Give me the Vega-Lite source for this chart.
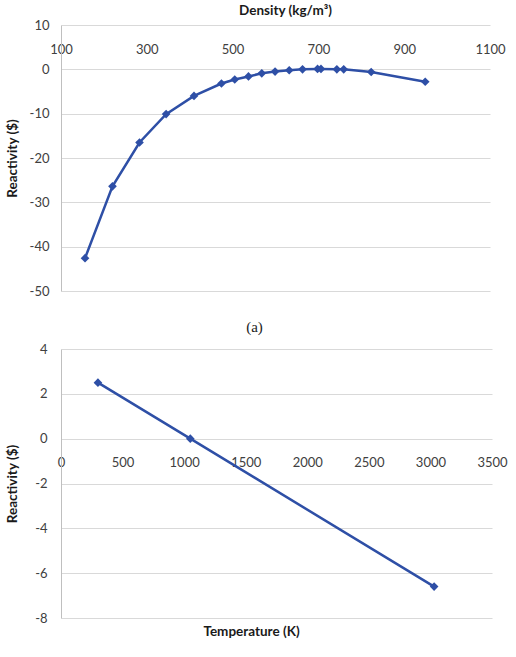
{
  "$schema": "https://vega.github.io/schema/vega-lite/v6.json",
  "background": "white",
  "padding": {"left": 5, "top": 3, "right": 5, "bottom": 5},
  "spacing": 8,
  "config": {
    "font": "Lato",
    "view": {"stroke": null},
    "axis": {"labelFont": "Lato", "labelFontSize": 13, "labelColor": "#404040", "labelExpr": "'' + datum.value", "titleFont": "Lato", "titleFontSize": 13.5, "titleFontWeight": "bold", "titleColor": "#1a1a1a", "gridColor": "#d9d9d9", "domainColor": "#bfbfbf", "ticks": false, "tickSize": 0}
  },
  "datasets": {
    "density": [
      {"density": 156, "reactivity": -42.6},
      {"density": 220, "reactivity": -26.4},
      {"density": 283, "reactivity": -16.5},
      {"density": 345, "reactivity": -10.1},
      {"density": 410, "reactivity": -6.0},
      {"density": 474, "reactivity": -3.2},
      {"density": 505, "reactivity": -2.3},
      {"density": 537, "reactivity": -1.6},
      {"density": 568, "reactivity": -0.9},
      {"density": 599, "reactivity": -0.5},
      {"density": 632, "reactivity": -0.2},
      {"density": 663, "reactivity": 0.0},
      {"density": 698, "reactivity": 0.1},
      {"density": 706, "reactivity": 0.1},
      {"density": 743, "reactivity": 0.0},
      {"density": 759, "reactivity": 0.0},
      {"density": 823, "reactivity": -0.6},
      {"density": 949, "reactivity": -2.8}
    ],
    "temperature": [
      {"temperature": 300, "reactivity": 2.5},
      {"temperature": 1050, "reactivity": 0.0},
      {"temperature": 3030, "reactivity": -6.6}
    ]
  },
  "vconcat": [
    {
      "width": 429,
      "height": 266,
      "title": {"text": "(a)", "orient": "bottom", "frame": "group", "dx": -21, "font": "Liberation Serif", "fontSize": 15, "fontWeight": "normal", "color": "#222222", "offset": 22},
      "data": {"name": "density"},
      "mark": {"type": "line", "color": "#2e4fa6", "strokeWidth": 2.5, "point": {"shape": "diamond", "filled": true, "size": 75, "color": "#2e4fa6"}},
      "encoding": {
        "x": {"field": "density", "type": "quantitative", "scale": {"domain": [100, 1100], "nice": false},
          "axis": {"orient": "top", "title": "Density (kg/m³)", "titleX": 224, "values": [100, 300, 500, 700, 900, 1100], "grid": false, "domain": false, "labelPadding": -24, "labelBaseline": "middle", "titlePadding": 8, "labelFlush": false}},
        "y": {"field": "reactivity", "type": "quantitative", "scale": {"domain": [-50, 10], "nice": false},
          "axis": {"title": "Reactivity ($)", "values": [-50, -40, -30, -20, -10, 0, 10], "grid": true, "domain": true, "labelPadding": 12, "titlePadding": 10}}
      }
    },
    {
      "width": 431,
      "height": 269,
      "data": {"name": "temperature"},
      "mark": {"type": "line", "color": "#2e4fa6", "strokeWidth": 2.5, "point": {"shape": "diamond", "filled": true, "size": 75, "color": "#2e4fa6"}},
      "encoding": {
        "x": {"field": "temperature", "type": "quantitative", "scale": {"domain": [0, 3500], "nice": false},
          "axis": {"orient": "bottom", "title": "Temperature (K)", "titleX": 190, "values": [0, 500, 1000, 1500, 2000, 2500, 3000, 3500], "grid": false, "domain": false, "labelPadding": -156, "labelBaseline": "middle", "titlePadding": 6, "labelFlush": false}},
        "y": {"field": "reactivity", "type": "quantitative", "scale": {"domain": [-8, 4], "nice": false},
          "axis": {"title": "Reactivity ($)", "values": [-8, -6, -4, -2, 0, 2, 4], "grid": true, "domain": true, "labelPadding": 14, "titlePadding": 15}}
      }
    }
  ]
}
